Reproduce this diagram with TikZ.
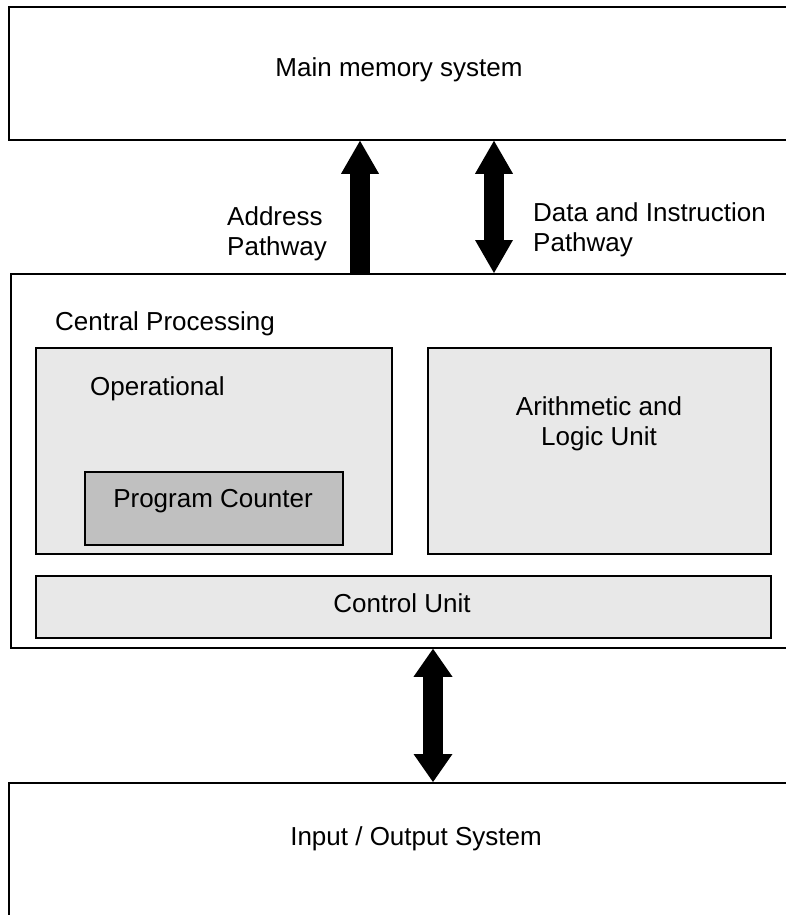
\documentclass[tikz,border=0pt]{standalone}
\usepackage{fontspec}
\setmainfont{Liberation Sans}
\usetikzlibrary{arrows.meta}

\definecolor{panel}{RGB}{232,232,232}
\definecolor{pcfill}{RGB}{192,192,192}

\begin{document}
\begin{tikzpicture}[x=1pt, y=-1pt,
  box/.style={draw=black, line width=1.8pt, rectangle, inner sep=0pt, anchor=north west},
  outerbox/.style={box, fill=white},
  unitbox/.style={box, fill=panel},
  pcbox/.style={box, fill=pcfill},
  txt/.style={inner sep=0pt, font=\fontsize{26}{30}\selectfont},
  bus/.style={line width=20.5pt, -{Triangle[width=38pt, length=33pt, line width=0pt]}},
  dbus/.style={line width=20pt, {Triangle[width=38pt, length=33pt, line width=0pt]}-{Triangle[width=38pt, length=33pt, line width=0pt]}},
  iobus/.style={line width=20pt, {Triangle[width=39pt, length=28pt, line width=0pt]}-{Triangle[width=39pt, length=28pt, line width=0pt]}}
]
\useasboundingbox (0,0) rectangle (786,915);
\clip (0,0) rectangle (786,915);

% outer system blocks (run past the right edge)
\node[outerbox, minimum width=782pt, minimum height=133pt] (mem) at (8,6) {};
\node[outerbox, minimum width=780pt, minimum height=374pt] (cpu) at (10,273) {};
\node[outerbox, minimum width=816pt, minimum height=200pt] (io)  at (8,782) {};

% units inside the processor
\node[unitbox, minimum width=356pt, minimum height=206pt] (op)  at (35,347) {};
\node[pcbox,   minimum width=258pt, minimum height=73pt]  (pc)  at (84,471) {};
\node[unitbox, minimum width=343pt, minimum height=206pt] (alu) at (427,347) {};
\node[unitbox, minimum width=735pt, minimum height=62pt]  (cu)  at (35,575) {};

% labels (multi-line labels are anchored on their last line)
\node[txt, anchor=base] (memtxt) at (399,77) {Main memory system};
\node[txt, anchor=base west] (cputxt) at (55,330) {Central Processing};
\node[txt, anchor=base west] (optxt) at (90,395) {Operational};
\node[txt, anchor=base] (pctxt) at (213,507) {Program Counter};
\node[txt, anchor=base, align=center] (alutxt) at (599,445) {Arithmetic and\\Logic Unit};
\node[txt, anchor=base] (cutxt) at (402,612) {Control Unit};
\node[txt, anchor=base] (iotxt) at (416,845) {Input / Output System};
\node[txt, anchor=base west, align=left] (addrtxt) at (227,255) {Address\\Pathway};
\node[txt, anchor=base west, align=left] (datatxt) at (533,251) {Data and Instruction\\Pathway};

% bus columns
\coordinate (ax) at (360,0);
\coordinate (dx) at (494,0);
\coordinate (ix) at (433,0);

% pathways
\draw[bus]   (cpu.north -| ax) -- (mem.south -| ax);
\draw[dbus]  (cpu.north -| dx) -- (mem.south -| dx);
\draw[iobus] (cpu.south -| ix) -- (io.north -| ix);
\end{tikzpicture}
\end{document}
